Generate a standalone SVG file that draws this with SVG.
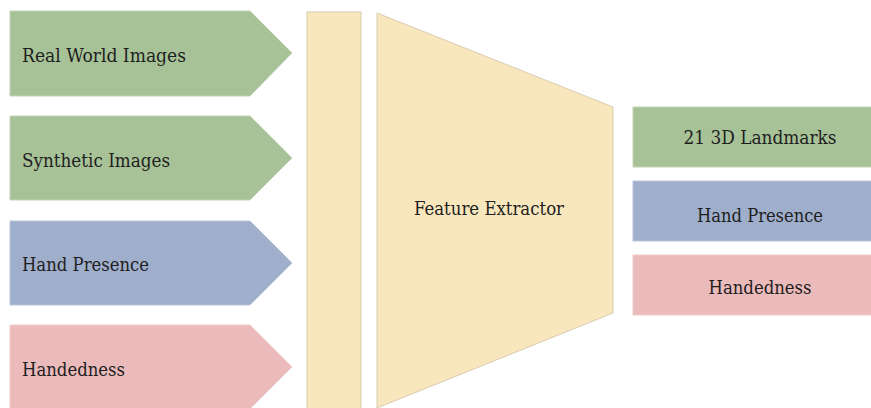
<svg xmlns="http://www.w3.org/2000/svg" width="871" height="408" viewBox="0 0 871 408">
<style>
.t{font-size:18px;fill:#1e1e1e}
.g{fill:#a8c298;stroke:#c4d3b8;stroke-width:1}
.b{fill:#9eaecb;stroke:#b9c4d9;stroke-width:1}
.p{fill:#ebbaba;stroke:#f0cccc;stroke-width:1}
.y{fill:#f8e6bc;stroke:#d8ccb2;stroke-width:1}
.c{text-anchor:middle}
</style>
<rect width="871" height="408" fill="#ffffff"/>
<g font-family="DejaVu Serif Condensed, DejaVu Serif, serif">
<g id="in-real"><polygon class="g" points="10,11 250,11 292,53 250,96 10,96"/><text class="t" x="22" y="62" textLength="164" lengthAdjust="spacingAndGlyphs">Real World Images</text></g>
<g id="in-synth"><polygon class="g" points="10,116 250,116 292,158 250,200 10,200"/><text class="t" x="22" y="167" textLength="148" lengthAdjust="spacingAndGlyphs">Synthetic Images</text></g>
<g id="in-presence"><polygon class="b" points="10,221 250,221 292,263 250,305 10,305"/><text class="t" x="22" y="271" textLength="127" lengthAdjust="spacingAndGlyphs">Hand Presence</text></g>
<g id="in-handed"><polygon class="p" points="10,325 250,325 292,367 250,409 10,409"/><text class="t" x="22" y="376" textLength="103" lengthAdjust="spacingAndGlyphs">Handedness</text></g>
<g id="bar"><rect class="y" x="307" y="12" width="54" height="400"/></g>
<g id="extractor"><polygon class="y" points="377,13 613,107 613,313 377,408"/><text class="t c" x="489" y="215" textLength="150" lengthAdjust="spacingAndGlyphs">Feature Extractor</text></g>
<g id="out-landmarks"><rect class="g" x="633" y="107" width="240" height="60"/><text class="t c" x="760" y="144" textLength="153" lengthAdjust="spacingAndGlyphs">21 3D Landmarks</text></g>
<g id="out-presence"><rect class="b" x="633" y="181" width="240" height="60"/><text class="t c" x="760" y="222" textLength="126" lengthAdjust="spacingAndGlyphs">Hand Presence</text></g>
<g id="out-handed"><rect class="p" x="633" y="255" width="240" height="60"/><text class="t c" x="760" y="294" textLength="103" lengthAdjust="spacingAndGlyphs">Handedness</text></g>
</g>
<g id="connectors"></g>
</svg>
